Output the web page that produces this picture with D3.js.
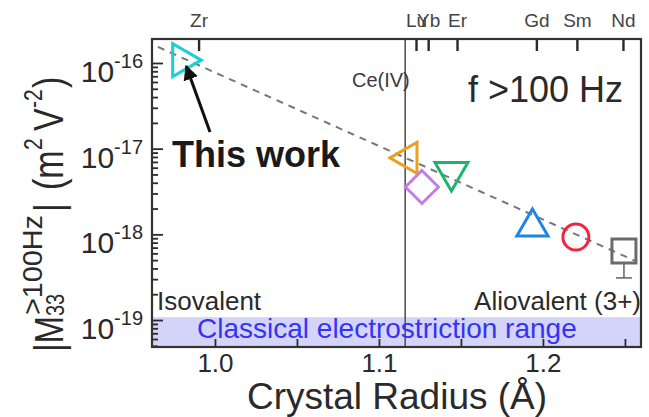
<!DOCTYPE html>
<html><head><meta charset="utf-8">
<script src="https://cdn.jsdelivr.net/npm/d3@7"></script>
<style>
body{margin:0;background:#fff}
svg{display:block}
text{font-family:"Liberation Sans",Arial,sans-serif}
</style>
</head><body>
<svg id="c" width="649" height="417"></svg>
<script>
// ---------------- data ----------------
const ions        = ["Zr", "Lu", "Yb", "Er", "Gd", "Sm", "Nd"];
const radius      = [0.980, 1.1177, 1.1262, 1.1442, 1.1936, 1.2201, 1.2494];   // Å
const m33         = [1.08e-16, 7.8e-18, 3.57e-18, 5.34e-18, 1.22e-18, 9.3e-19, 6.4e-19]; // m^2 V^-2
const m33ErrLow   = [null, null, null, null, null, null, 3.1e-19];
const topTickIons   = ["Zr", "Lu", "Yb", "Er", "Gd", "Sm", "Nd"];
const topTickRadius = [0.990, 1.1226, 1.130, 1.1476, 1.196, 1.2207, 1.2488];
const xTickLabels = [1.0, 1.1, 1.2];
const xAllTicks   = [1.0, 1.05, 1.1, 1.15, 1.2, 1.25];
const yDecades    = [-16, -17, -18, -19];
const fitRadius   = [0.9652, 1.2573];
const fitM33      = [1.54e-16, 4.8e-19];
const ceIVRadius  = 1.116;
const classicalRange = [4.84e-20, 1.08e-19];

// ---------------- styles ----------------
const style = {
  Zr: {shape: "triR", color: "#1ccfd0", s: 19},
  Lu: {shape: "triL", color: "#e8a21f", s: 18},
  Yb: {shape: "diamond", color: "#c47ce6", s: 16.5},
  Er: {shape: "triD", color: "#1fb46e", s: 19},
  Gd: {shape: "triU", color: "#1f86e6", s: 18},
  Sm: {shape: "circle", color: "#f2253f", s: 13},
  Nd: {shape: "square", color: "#6b6b6b", s: 12}
};

const W = 649, H = 417;
const L = 152, R = 641, T = 39, B = 347;
const svg = d3.select("#c");
svg.append("rect").attr("width", W).attr("height", H).attr("fill", "#fff");

const x = d3.scaleLinear().domain([0.9616, 1.2598]).range([L, R]);
const y = d3.scaleLog().domain([Math.pow(10, -19.315), Math.pow(10, -15.72)]).range([B, T]);

const dark = "#2a2a2a";

// classical band
svg.append("rect")
  .attr("x", L).attr("width", R - L)
  .attr("y", y(classicalRange[1])).attr("height", y(classicalRange[0]) - y(classicalRange[1]))
  .attr("fill", "#d4d4fa");

// Ce(IV) line
svg.append("line")
  .attr("x1", x(ceIVRadius)).attr("x2", x(ceIVRadius))
  .attr("y1", T).attr("y2", B)
  .attr("stroke", "#555").attr("stroke-width", 1.6);

// dashed fit line
svg.append("path")
  .datum(fitRadius.map((r, i) => [r, fitM33[i]]))
  .attr("d", d3.line().x(d => x(d[0])).y(d => y(d[1])))
  .attr("fill", "none").attr("stroke", "#777").attr("stroke-width", 2)
  .attr("stroke-dasharray", "7,6");

// markers
function shapePath(shape, s) {
  const h = 0.866 * s;
  switch (shape) {
    case "triR": return `M${s},0L${-s/2},${-h}L${-s/2},${h}Z`;
    case "triL": return `M${-s},0L${s/2},${-h}L${s/2},${h}Z`;
    case "triU": return `M0,${-s}L${h},${s/2}L${-h},${s/2}Z`;
    case "triD": return `M0,${s}L${h},${-s/2}L${-h},${-s/2}Z`;
    case "diamond": return `M0,${-s}L${s},0L0,${s}L${-s},0Z`;
    case "square": return `M${-s},${-s}L${s},${-s}L${s},${s}L${-s},${s}Z`;
    case "circle": return `M${s},0A${s},${s} 0 1,1 ${-s},0A${s},${s} 0 1,1 ${s},0Z`;
  }
}
const pts = ions.map((n, i) => ({n, r: radius[i], v: m33[i], lo: m33ErrLow[i]}));

// error bars
const eb = svg.append("g");
pts.filter(d => d.lo !== null).forEach(d => {
  const st = style[d.n];
  eb.append("line").attr("x1", x(d.r)).attr("x2", x(d.r))
    .attr("y1", y(d.v) + st.s).attr("y2", y(d.lo))
    .attr("stroke", st.color).attr("stroke-width", 1.6);
  eb.append("line").attr("x1", x(d.r) - 8).attr("x2", x(d.r) + 8)
    .attr("y1", y(d.lo)).attr("y2", y(d.lo))
    .attr("stroke", st.color).attr("stroke-width", 1.6);
});

svg.append("g").selectAll("path").data(pts).join("path")
  .attr("transform", d => `translate(${x(d.r)},${y(d.v)})`)
  .attr("d", d => shapePath(style[d.n].shape, style[d.n].s))
  .attr("fill", "none")
  .attr("stroke", d => style[d.n].color)
  .attr("stroke-width", 3)
  .attr("stroke-linejoin", "miter");

// texts inside plot
svg.append("text").attr("x", 623).attr("y", 102).attr("text-anchor", "end")
  .attr("font-size", 36).attr("fill", dark).text("f >100 Hz");
svg.append("text").attr("x", 352).attr("y", 87)
  .attr("font-size", 20).attr("fill", "#3a3a3a").text("Ce(IV)");
svg.append("text").attr("x", 157).attr("y", 310)
  .attr("font-size", 26).attr("fill", dark).text("Isovalent");
svg.append("text").attr("x", 641).attr("y", 310).attr("text-anchor", "end")
  .attr("font-size", 26).attr("fill", dark).text("Aliovalent (3+)");
svg.append("text").attr("x", 197).attr("y", 338)
  .attr("font-size", 28).attr("fill", "#3434f2").text("Classical electrostriction range");

// "This work" + arrow
svg.append("defs").append("marker")
  .attr("id", "ah").attr("viewBox", "0 0 10 10").attr("refX", 9).attr("refY", 5)
  .attr("markerWidth", 5).attr("markerHeight", 5).attr("markerUnits", "strokeWidth")
  .attr("orient", "auto")
  .append("path").attr("d", "M0,0L10,5L0,10Z").attr("fill", "#111");
const zr = pts[0];
svg.append("line")
  .attr("x1", 210).attr("y1", 132)
  .attr("x2", x(zr.r) + 4).attr("y2", y(zr.v) + 6)
  .attr("stroke", "#111").attr("stroke-width", 3).attr("marker-end", "url(#ah)");
svg.append("text").attr("x", 172).attr("y", 167)
  .attr("font-size", 36).attr("font-weight", "bold").attr("fill", "#1a1a1a").text("This work");

// ---------------- axes ----------------
const majors = yDecades.map(e => Math.pow(10, e));
const minors = [];
[-20, -19, -18, -17, -16].forEach(e => { for (let k = 2; k <= 9; k++) { const v = k * Math.pow(10, e); if (v > y.domain()[0] && v < y.domain()[1]) minors.push(v); } });
function styleAxis(g) { g.select(".domain").remove(); g.selectAll("line").attr("stroke", dark).attr("stroke-width", 1.8); g.selectAll("text").remove(); }
svg.append("g").attr("transform", `translate(${L},0)`)
  .call(d3.axisRight(y).tickValues(majors).tickSize(11).tickFormat("")).call(styleAxis);
svg.append("g").attr("transform", `translate(${L},0)`)
  .call(d3.axisRight(y).tickValues(minors).tickSize(6).tickFormat("")).call(styleAxis);

// y tick labels 10^e
const yl = svg.append("g");
yDecades.forEach(e => {
  const t = yl.append("text").attr("x", 143).attr("y", y(Math.pow(10, e)) + 19)
    .attr("text-anchor", "end").attr("fill", dark).attr("font-size", 30);
  t.append("tspan").text("10");
  t.append("tspan").attr("font-size", 20).attr("dy", -14).text(String(e));
});

// bottom ticks pointing up
svg.append("g").attr("transform", `translate(0,${B})`)
  .call(d3.axisTop(x).tickValues(xAllTicks).tickSize(8).tickFormat("")).call(styleAxis);
const bx = svg.append("g").attr("transform", `translate(0,${B})`)
  .call(d3.axisBottom(x).tickValues(xTickLabels).tickSize(0).tickPadding(7).tickFormat(d3.format(".1f")));
bx.select(".domain").remove();
bx.selectAll("text").attr("font-size", 26).attr("fill", dark).attr("font-family", "Liberation Sans, Arial, sans-serif");

// top ticks pointing down with ion labels
svg.append("g").attr("transform", `translate(0,${T})`)
  .call(d3.axisBottom(x).tickValues(topTickRadius).tickSize(12).tickFormat("")).call(g => {
    g.select(".domain").remove(); g.selectAll("line").attr("stroke", dark).attr("stroke-width", 2.4); });
const tx = svg.append("g").attr("transform", `translate(0,${T})`)
  .call(d3.axisTop(x).tickValues(topTickRadius).tickSize(0).tickPadding(12).tickFormat((d, i) => topTickIons[i]));
tx.select(".domain").remove();
tx.selectAll("text").attr("font-size", 19).attr("fill", "#444").attr("font-family", "Liberation Sans, Arial, sans-serif");

// frame
svg.append("rect").attr("x", L).attr("y", T).attr("width", R - L).attr("height", B - T)
  .attr("fill", "none").attr("stroke", "#333").attr("stroke-width", 2.2);

// x axis title
svg.append("text").attr("x", 397).attr("y", 409).attr("text-anchor", "middle")
  .attr("font-size", 37).attr("fill", dark).text("Crystal Radius (Å)");

// y axis title (rotated, pieces)
const yt = svg.append("g").attr("transform", "translate(63,350) scale(1.25,1) rotate(-90)")
  .attr("fill", dark);
function piece(txt, px, py, fs, len) {
  const t = yt.append("text").attr("x", px).attr("y", py).attr("font-size", fs).text(txt);
  if (len) t.attr("textLength", len).attr("lengthAdjust", "spacingAndGlyphs");
  return t;
}
piece("|M", -2, 0, 33);
piece("33", 34, 1, 20);
piece(">100Hz", 35, -17, 22, 100);
piece("|", 138, 0, 33);
piece("(m", 160, 0, 34);
piece("2", 200, -17, 21);
piece("V", 219, 0, 34);
piece("-2", 242, -17, 21);
piece(")", 262, 0, 34);
</script>
</body></html>
